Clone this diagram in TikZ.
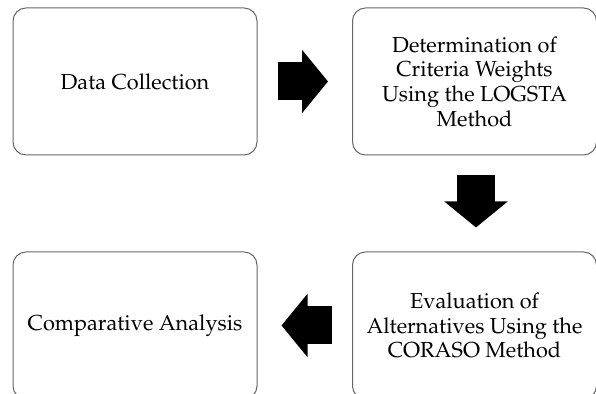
\documentclass[tikz,border=0pt]{standalone}
\usepackage[T1]{fontenc}
\usepackage{mathpazo}
\usepackage{xcolor}
\usepackage{tikz}
\usetikzlibrary{arrows.meta}

\tikzset{
  procbox/.style={draw=black!60, line width=0.5pt, rounded corners=6.5pt,
    minimum width=122pt, minimum height=73.5pt, align=center,
    font=\fontsize{10.85}{12.35}\selectfont},
  blockarrow/.style={line width=19pt, -{Triangle[width=31pt,length=13pt]},
    shorten <=10pt, shorten >=12pt}
}

\begin{document}
\begin{tikzpicture}[x=0.5pt,y=0.5pt]
        \useasboundingbox (0,0) rectangle (596,394);
        \clip (0,0) rectangle (596,394);

        % Boxes
        \node[procbox] (dc) at (135,312.5) {Data Collection};
        \node[procbox] (lw) at (474.5,312.5) {Determination of\\Criteria Weights\\Using the LOGSTA\\Method};
        \node[procbox] (ev) at (474.5,68.5) {Evaluation of\\Alternatives Using the\\CORASO Method};
        \node[procbox] (ca) at (135,68.5) {Comparative Analysis};

        % Arrows
        \draw[blockarrow] (dc.east) -- (lw.west);
        \draw[blockarrow] ([xshift=0.75pt]lw.south) -- ([xshift=0.75pt]ev.north);
        \draw[blockarrow] (ev.west) -- (ca.east);

    \end{tikzpicture}
\end{document}
